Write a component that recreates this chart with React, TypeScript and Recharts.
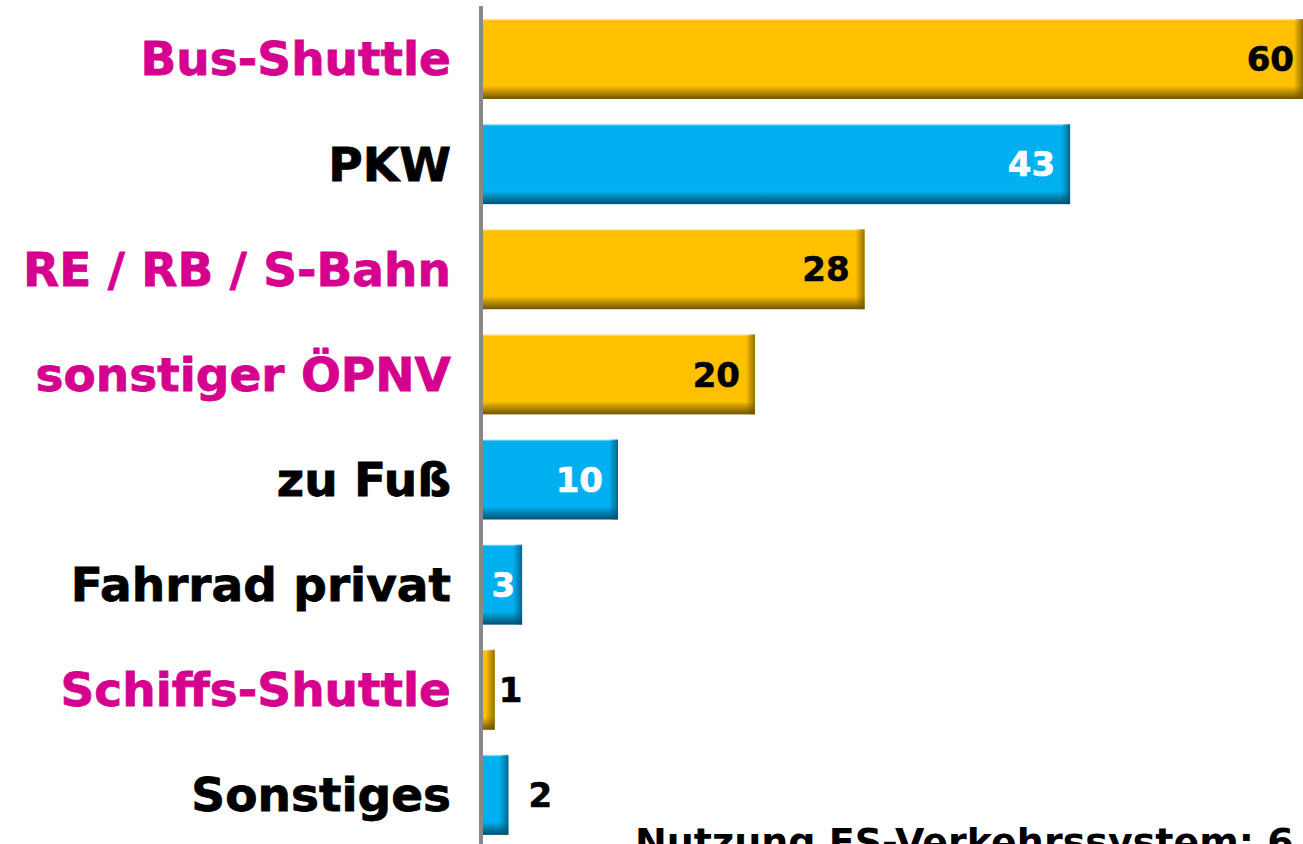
import React from 'react';
import { BarChart, Bar, XAxis, YAxis, LabelList } from 'recharts';

const categories = ['Bus-Shuttle', 'PKW', 'RE / RB / S-Bahn', 'sonstiger ÖPNV', 'zu Fuß', 'Fahrrad privat', 'Schiffs-Shuttle', 'Sonstiges'];
const values = [60, 43, 28, 20, 10, 3, 1, 2];
const groups = ['oev', 'iv', 'oev', 'oev', 'iv', 'iv', 'oev', 'iv'];
const footerText = 'Nutzung FS-Verkehrssystem: 6';

const FONT = '"DejaVu Sans", Verdana, sans-serif';
const PALETTE: Record<string, { base: string; dark: string; light: string; label: string; value: string }> = {
  oev: { base: '#FFC000', dark: '#6E5400', light: '#FFE9A8', label: '#D6008F', value: '#000000' },
  iv: { base: '#00B0F0', dark: '#00506E', light: '#A8E4FA', label: '#000000', value: '#FFFFFF' },
};

const data = categories.map((name, i) => ({ name, value: values[i], group: groups[i] }));

const BarShape = (props: any) => {
  const { x, y, width, height, index, payload } = props;
  if (!width || !height) return null;
  const p = PALETTE[payload.group];
  const vId = `vg${index}`;
  const hId = `hg${index}`;
  const bottomStart = Math.max(0, (height - 13) / height);
  const rightStart = Math.max(0, (width - 9) / width);
  return (
    <g>
      <defs>
        <linearGradient id={vId} x1="0" y1="0" x2="0" y2="1">
          <stop offset="0" stopColor={p.light} />
          <stop offset="0.025" stopColor={p.base} />
          <stop offset={bottomStart} stopColor={p.base} />
          <stop offset="1" stopColor={p.dark} />
        </linearGradient>
        <linearGradient id={hId} x1="0" y1="0" x2="1" y2="0">
          <stop offset={rightStart} stopColor={p.dark} stopOpacity={0} />
          <stop offset="1" stopColor={p.dark} stopOpacity={0.75} />
        </linearGradient>
      </defs>
      <rect x={x} y={y} width={width} height={height} fill={`url(#${vId})`} />
      <rect x={x} y={y} width={width} height={height} fill={`url(#${hId})`} />
    </g>
  );
};

const CategoryTick = (props: any) => {
  const { x, y, payload } = props;
  const idx = categories.indexOf(payload.value);
  const color = PALETTE[groups[idx]].label;
  return (
    <text
      x={x}
      y={y}
      dy="0.36em"
      textAnchor="end"
      fill={color}
      stroke={color}
      strokeWidth={0.8}
      fontFamily={FONT}
      fontWeight="bold"
      fontSize={47}
    >
      {payload.value}
    </text>
  );
};

const ValueLabel = (props: any) => {
  const { x, y, width, height, value, index } = props;
  const group = groups[index];
  const end = x + width;
  const cy = y + height / 2;
  if (value <= 2) {
    return (
      <text x={end + (value === 1 ? 4 : 20)} y={cy} dy="0.36em" textAnchor="start" fill="#000" stroke="#000" strokeWidth={0.6} fontFamily={FONT} fontWeight="bold" fontSize={34}>
        {value}
      </text>
    );
  }
  const inset = value >= 60 ? 9 : value <= 3 ? 7 : 15;
  const c = PALETTE[group].value;
  return (
    <text x={end - inset} y={cy} dy="0.36em" textAnchor="end" fill={c} stroke={c} strokeWidth={0.6} fontFamily={FONT} fontWeight="bold" fontSize={34}>
      {value}
    </text>
  );
};

export default function App() {
  return (
    <div style={{ position: 'absolute', left: 0, top: 0, width: 1303, height: 844, overflow: 'hidden', background: '#fff' }}>
      <BarChart
        width={1303}
        height={880}
        data={data}
        layout="vertical"
        margin={{ top: 6, right: 0, bottom: 33, left: 0 }}
      >
        <XAxis type="number" domain={[0, 60]} hide />
        <YAxis
          type="category"
          dataKey="name"
          width={481}
          tickLine={false}
          tickSize={0}
          tickMargin={30}
          axisLine={{ stroke: '#888888', strokeWidth: 4 }}
          tick={<CategoryTick />}
          interval={0}
        />
        <Bar dataKey="value" barSize={80} shape={<BarShape />} isAnimationActive={false}>
          <LabelList dataKey="value" content={<ValueLabel />} />
        </Bar>
      </BarChart>
      <div
        style={{
          position: 'absolute',
          left: 635,
          top: 823,
          fontFamily: FONT,
          fontWeight: 'bold',
          fontSize: 38,
          lineHeight: 1,
          whiteSpace: 'nowrap',
          color: '#000',
        }}
      >
        {footerText}
      </div>
    </div>
  );
}
